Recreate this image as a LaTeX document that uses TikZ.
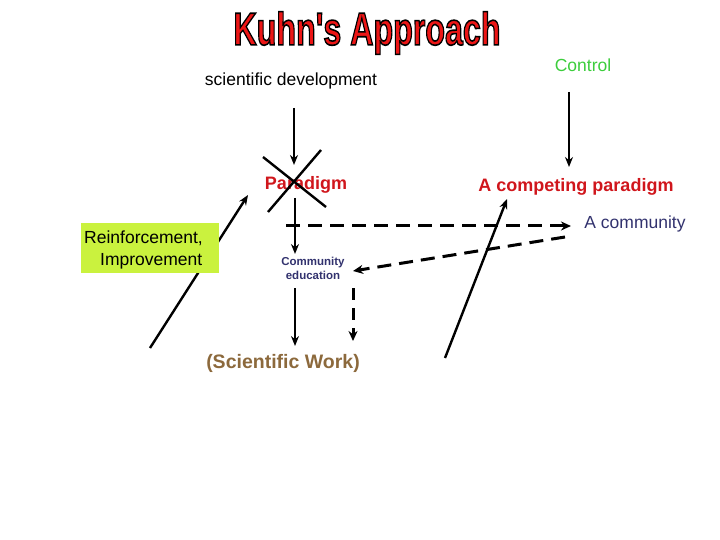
\documentclass[tikz,border=0pt]{standalone}
\usepackage{fontspec}
\setmainfont{Liberation Sans}
\usetikzlibrary{arrows.meta}
\definecolor{titlered}{RGB}{236,22,22}
\definecolor{parred}{RGB}{208,22,28}
\definecolor{ctrlgreen}{RGB}{60,205,60}
\definecolor{navy}{RGB}{50,50,110}
\definecolor{brown}{RGB}{140,105,60}
\definecolor{boxgreen}{RGB}{202,242,62}
\begin{document}
\begin{tikzpicture}[x=1pt,y=-1pt,
  lbl/.style={inner sep=0pt, font=\fontsize{17.5}{20}\selectfont},
  blbl/.style={inner sep=0pt, font=\fontsize{18}{21}\selectfont\bfseries},
  arr/.style={line width=2.4pt, -{Stealth[length=10pt,width=8pt]}},
  plain/.style={line width=2.4pt},
  darr/.style={line width=3pt, dash pattern=on 14pt off 8pt, -{Stealth[length=10pt,width=9pt]}}]
\useasboundingbox (0,0) rectangle (720,540);

% title
\node[inner sep=0pt] (title) at (367,33) {\fontsize{46}{50}\selectfont\bfseries\scalebox{0.70}[1]{\special{pdf:literal q}{\color{titlered}\special{pdf:literal 0 0 0 RG 2 Tr 1.6 w}Kuhn\textquotesingle s Approach\special{pdf:literal 0 Tr}}\special{pdf:literal Q}}};

% texts
\node[lbl] (sd) at (291,81) {scientific development};
\node[lbl, text=ctrlgreen] (ctrl) at (583,65) {Control};
\node[blbl, text=parred] (par) at (306,185) {Paradigm};
\node[blbl, text=parred] (comp) at (576,187) {A competing paradigm};
\node[lbl, text=navy] (comm) at (635,224) {A community};
\node[inner sep=0pt, align=center, text=navy, font=\fontsize{11.5}{14}\selectfont\bfseries] (ce) at (313,268) {Community\\education};
\node[inner sep=0pt, text=brown, font=\fontsize{19.5}{22}\selectfont\bfseries] (sw) at (283,363) {(Scientific Work)};

% coordinates
\coordinate (sdA) at (294,108);
\coordinate (sdB) at (294,165);
\coordinate (ctA) at (569,92);
\coordinate (ctB) at (569,167);
\coordinate (pA) at (295,198);
\coordinate (pB) at (295,254);
\coordinate (xa1) at (321,150);
\coordinate (xa2) at (268,212);
\coordinate (xb1) at (263,157);
\coordinate (xb2) at (326,207);
\coordinate (hA) at (286,226);
\coordinate (hB) at (571,226);
\coordinate (gA) at (565,237);
\coordinate (gB) at (353,271);
\coordinate (cA) at (445,358);
\coordinate (cB) at (507,199);
\coordinate (lA) at (150,348);
\coordinate (lB) at (248,195);
\coordinate (wA) at (295,288);
\coordinate (wB) at (295,346);
\coordinate (vA) at (353,288);
\coordinate (vB) at (353,341);

% connectors
\draw[arr] (sdA) -- (sdB);
\draw[arr] (ctA) -- (ctB);
\draw[plain] (xa1) -- (xa2);
\draw[plain] (xb1) -- (xb2);
\draw[arr] (pA) -- (pB);
\draw[darr] (hA) -- (hB);
\draw[darr] (gA) -- (gB);
\draw[arr] (cA) -- (cB);
\draw[arr] (lA) -- (lB);
\draw[arr] (wA) -- (wB);
\draw[darr, dash pattern=on 12pt off 8pt] (vA) -- (vB);

% box
\node[fill=boxgreen, minimum width=138pt, minimum height=50pt, inner sep=0pt] (reinf) at (150,248) {};
\node[inner sep=0pt, align=left, font=\fontsize{17.5}{22}\selectfont, anchor=west] (reinft) at (84,250) {Reinforcement,\\\hspace*{16pt}Improvement};
\end{tikzpicture}
\end{document}
